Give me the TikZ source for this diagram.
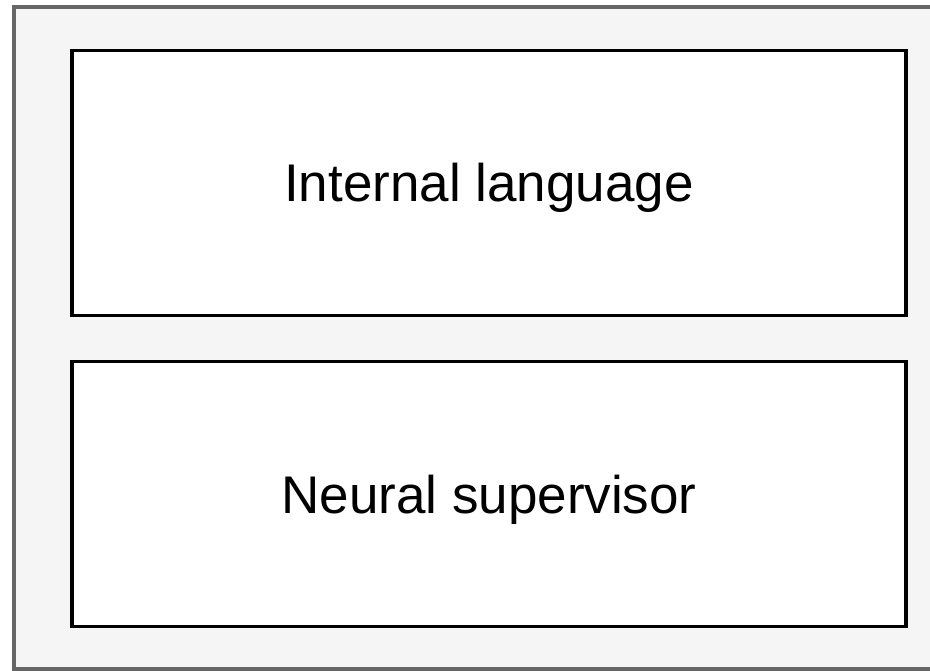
\documentclass[tikz,border=0pt]{standalone}
\usepackage{fontspec}
\setmainfont{Liberation Sans}
\usetikzlibrary{positioning}
\tikzset{
  frame/.style={draw=black!60,line width=4.5pt,fill=black!4},
  layer/.style={draw=black,line width=3.5pt,fill=white,minimum width=834pt,minimum height=265pt,inner sep=0pt,
    text height=38pt,text depth=0pt,font=\fontsize{53}{60}\selectfont},
}
\begin{document}
\begin{tikzpicture}[x=1pt,y=-1pt]
 \clip (0,0) rectangle (930,671);
 \draw[frame] (14,7) rectangle (945,669);
 % two stacked layers
 \node[layer] (lang) at (489,183) {Internal language};
 \node[layer,below=42.5pt of lang] (sup) {Neural supervisor};
\end{tikzpicture}
\end{document}
